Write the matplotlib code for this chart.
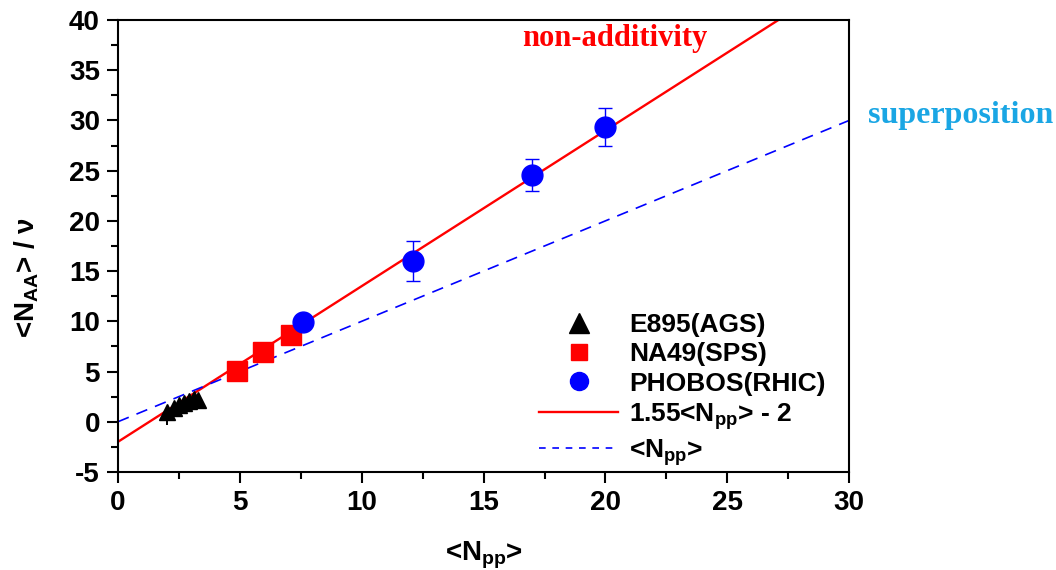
import numpy as np
import matplotlib
matplotlib.use("Agg")
import matplotlib.pyplot as plt
from matplotlib.ticker import MultipleLocator

plt.rcParams['font.family'] = ['Liberation Sans', 'DejaVu Sans']
plt.rcParams['mathtext.fontset'] = 'custom'
plt.rcParams['mathtext.rm'] = 'Liberation Sans:bold'
plt.rcParams['mathtext.bf'] = 'Liberation Sans:bold'
plt.rcParams['mathtext.default'] = 'bf'
plt.rcParams['axes.unicode_minus'] = False

# E895 (AGS)
e895_x = [2.0, 2.3, 2.5, 2.7, 2.9, 3.1, 3.3]
e895_y = [1.0, 1.4, 1.7, 1.9, 2.1, 2.3, 2.2]
e895_err = [1.3, 0, 0, 0, 0, 0, 0]

# NA49 (SPS)
na49_x = [4.9, 5.95, 7.1]
na49_y = [5.1, 6.95, 8.6]

# PHOBOS (RHIC)
phobos_x = [7.6, 12.1, 17.0, 20.0]
phobos_y = [9.9, 16.0, 24.6, 29.35]
phobos_err = [0.4, 2.0, 1.6, 1.85]

# fit lines
fit_slope, fit_icpt = 1.55, -2.0
line_x = [0, 30]

fig = plt.figure(figsize=(10.56, 5.7), dpi=100)
ax = fig.add_axes([0.1117, 0.172, 0.6925, 0.793])

lx = np.array(line_x, dtype=float)
ax.plot(lx, fit_slope * lx + fit_icpt, color='red', lw=1.7, zorder=2)
ax.plot(lx, lx, color='blue', lw=1.2, ls=(0, (7, 5)), zorder=2)

ax.errorbar(e895_x, e895_y, yerr=[e895_err, [0] * len(e895_err)], fmt='^',
            color='black', ms=11, elinewidth=1.4, capsize=0, zorder=3)
ax.plot(na49_x, na49_y, 's', color='red', ms=14, zorder=3)
ax.errorbar(phobos_x, phobos_y, yerr=phobos_err, fmt='o', color='blue',
            ms=15, elinewidth=1.0, capsize=5, capthick=1.0, zorder=3)

# legend handles
h_tri, = ax.plot([], [], '^', color='black', ms=14)
h_sq, = ax.plot([], [], 's', color='red', ms=11)
h_ci, = ax.plot([], [], 'o', color='blue', ms=13)
h_fit, = ax.plot([], [], color='red', lw=1.7)
h_sup, = ax.plot([], [], color='blue', lw=1.2, ls=(0, (4, 4)))
handles = [h_tri, h_sq, h_ci, h_fit, h_sup]
labels = ['E895(AGS)', 'NA49(SPS)', 'PHOBOS(RHIC)',
          '1.55<N$_{pp}$> - 2', '<N$_{pp}$>']
ax.legend(handles, labels, loc='lower right', bbox_to_anchor=(1.0, -0.043),
          frameon=False, handlelength=3.0, handletextpad=0.4,
          labelspacing=0.2, prop={'weight': 'bold', 'size': 19})

ax.set_xlim(0, 30)
ax.set_ylim(-5, 40)
ax.xaxis.set_major_locator(MultipleLocator(5))
ax.xaxis.set_minor_locator(MultipleLocator(2.5))
ax.yaxis.set_major_locator(MultipleLocator(5))
ax.yaxis.set_minor_locator(MultipleLocator(2.5))
ax.tick_params(which='major', direction='out', length=8, width=1.5,
               labelsize=20, top=False, right=False, pad=5)
ax.tick_params(which='minor', direction='out', length=5, width=1.5,
               top=False, right=False)
for lab in ax.get_xticklabels() + ax.get_yticklabels():
    lab.set_fontweight('bold')
for sp in ax.spines.values():
    sp.set_linewidth(1.5)

ax.set_xlabel('<N$_{pp}$>', fontsize=20, fontweight='bold')
ax.xaxis.set_label_coords(0.5, -0.15)
ax.set_ylabel('<N$_{AA}$> / ν', fontsize=20, fontweight='bold')
ax.yaxis.set_label_coords(-0.105, 0.43)

ax.text(20.4, 38.2, 'non-additivity', color='red', fontsize=22,
        fontweight='bold', family='Liberation Serif', ha='center', va='center')
ax.text(30.75, 30.5, 'superposition', color='#1aa6e4', fontsize=23,
        fontweight='bold', family='Liberation Serif', ha='left', va='center',
        clip_on=False)

fig.savefig('out.png', dpi=100)
